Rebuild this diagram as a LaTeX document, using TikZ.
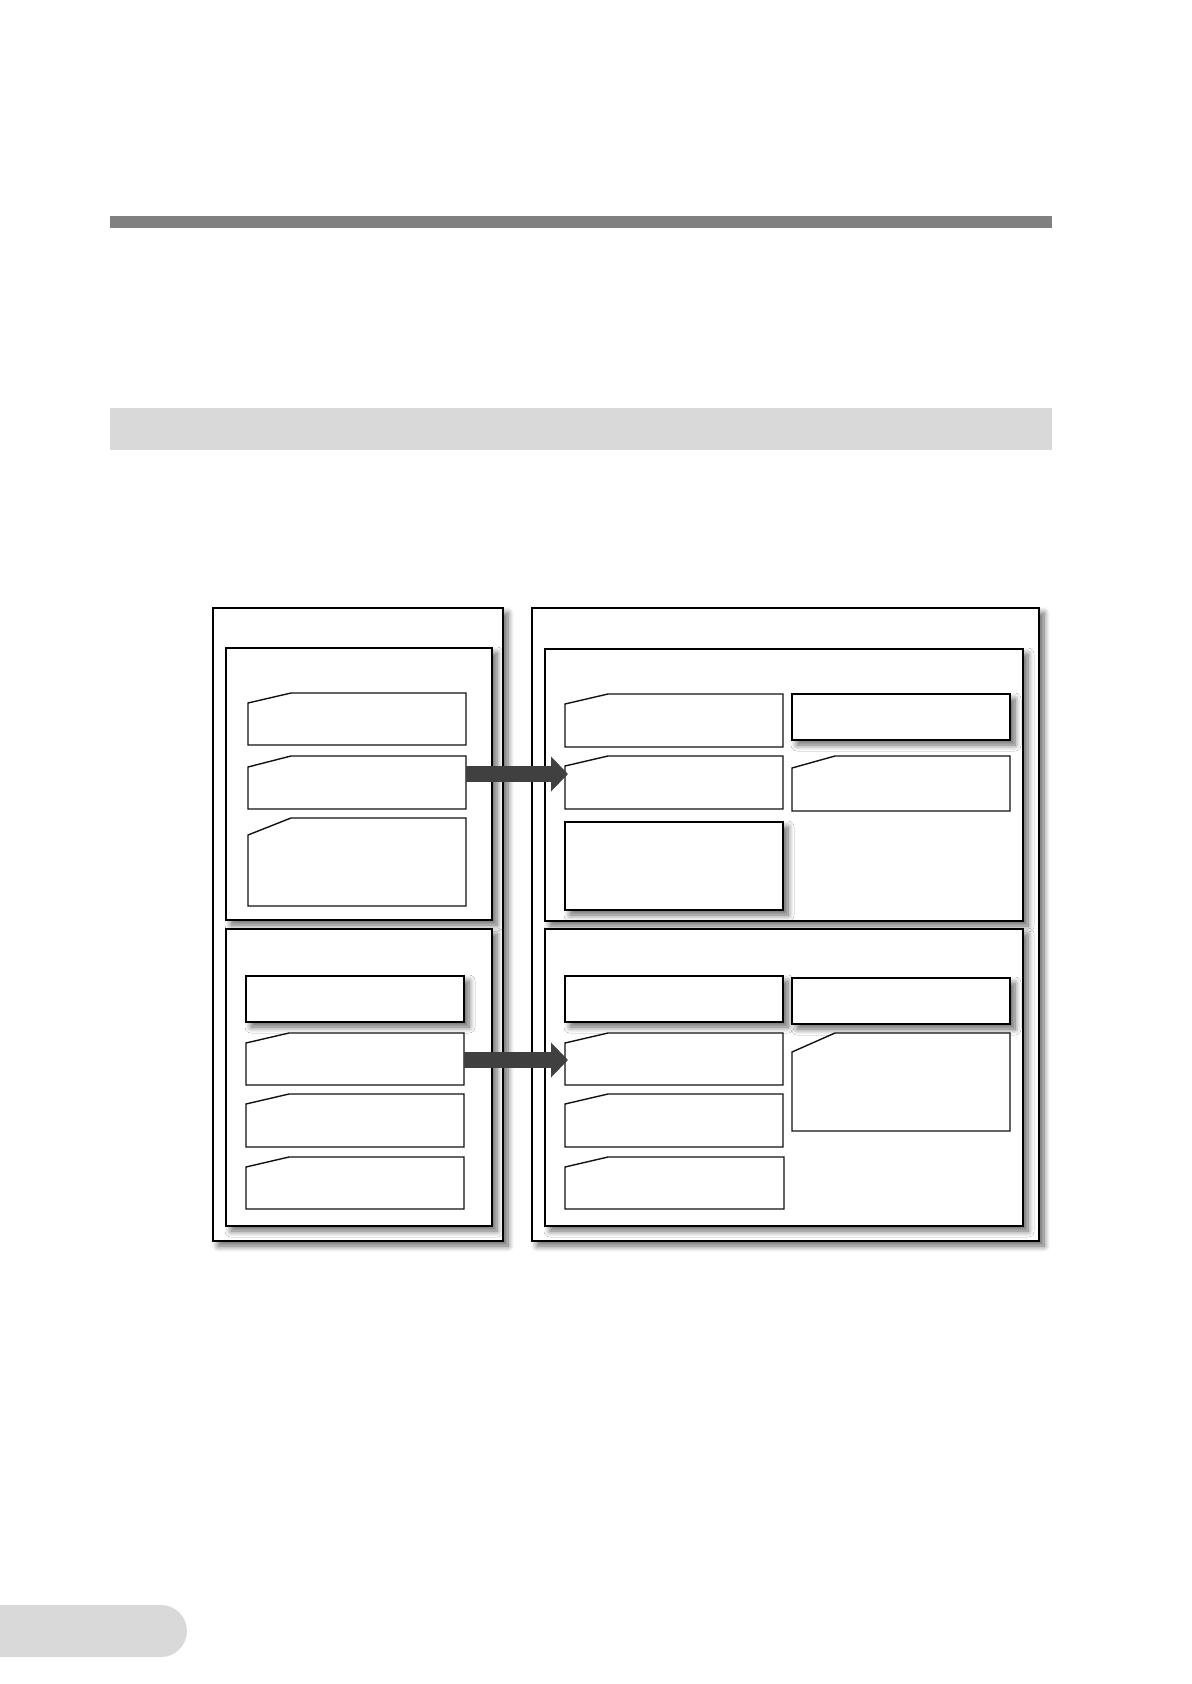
\documentclass[tikz,border=0pt]{standalone}
\usetikzlibrary{fit,arrows.meta,shadows.blur,calc}
\definecolor{bargray}{HTML}{808080}
\definecolor{bandgray}{HTML}{D9D9D9}
\definecolor{arrowgray}{HTML}{404040}
\definecolor{edgegray}{HTML}{111111}
\tikzset{
  softshadow/.style={blur shadow={shadow xshift=2.5pt, shadow yshift=-2.5pt, shadow blur steps=8, shadow blur radius=3pt, shadow opacity=60}},
  frame/.style={draw=black, line width=0.9pt, fill=white, inner sep=0pt, outer sep=0pt, softshadow},
  panel/.style={draw=black, line width=0.7pt, fill=white, inner sep=0pt, outer sep=0pt, softshadow},
  plainbox/.style={draw=black, line width=0.8pt, fill=white, inner sep=0pt, outer sep=0pt, softshadow},
  slantarea/.style={inner sep=0pt, outer sep=0pt},
  slantline/.style={draw=edgegray, line width=0.7pt, fill=white, line join=miter},
  flow/.style={draw=arrowgray, line width=8pt, -{Triangle[length=8.5pt,width=17pt]}}
}
\newcommand\slantnode[6]{%
  \node[slantarea, fit={(#2,#3) (#4,#5)}] (#1) {};
  \draw[slantline] (#1.south west) -- ([yshift=-#6pt]#1.north west) -- ([xshift=21.5pt]#1.north west) -- (#1.north east) -- (#1.south east) -- cycle;}
\begin{document}
\begin{tikzpicture}[x=0.5pt,y=-0.5pt]
\useasboundingbox (0,0) rectangle (1191,1684);
% page decorations
\fill[bargray] (110,216) rectangle (1052,228);
\fill[bandgray] (110,408) rectangle (1052,450);
\fill[bandgray, rounded corners=13pt] (-60,1605) rectangle (187,1657);
% outer frames
\node[frame, fit={(213,608) (503,1241)}] (LO) {};
\node[frame, fit={(532,608) (1039,1241)}] (RO) {};
% panels
\node[panel, fit={(226,648) (492,920)}] (LU) {};
\node[panel, fit={(226,929) (492,1226)}] (LL) {};
\node[panel, fit={(545,649) (1023,921)}] (RU) {};
\node[panel, fit={(545,929) (1023,1226)}] (RL) {};
% left upper nodes
\slantnode{L1}{248}{693}{466}{745}{5}
\slantnode{L2}{248}{756}{466}{809}{5.5}
\slantnode{L3}{248}{818}{466}{906}{8.5}
% left lower nodes
\node[plainbox, fit={(246,976) (464,1022)}] (L4) {};
\slantnode{L5}{246}{1033}{464}{1085}{5}
\slantnode{L6}{246}{1094}{464}{1147}{5}
\slantnode{L7}{246}{1157}{464}{1209}{5}
% right upper nodes
\slantnode{R1}{565}{694}{783}{747}{5}
\slantnode{R2}{565}{756}{783}{809}{5}
\node[plainbox, fit={(565,822) (783,910)}] (R3) {};
\node[plainbox, fit={(792,694) (1010,740)}] (RA) {};
\slantnode{RB}{792}{756}{1010}{811}{6}
% right lower nodes
\node[plainbox, fit={(565,976) (783,1022)}] (R4) {};
\slantnode{R5}{565}{1033}{783}{1085}{5}
\slantnode{R6}{565}{1094}{783}{1147}{5}
\slantnode{R7}{565}{1157}{784}{1209}{5}
\node[plainbox, fit={(792,978) (1010,1024)}] (RC) {};
\slantnode{RD}{792}{1033}{1010}{1131}{9.5}
% arrows
\draw[flow] ([yshift=-9pt]L2.north east) -- ([xshift=1.5pt,yshift=-9pt]R2.north west);
\draw[flow] ([yshift=-13.5pt]L5.north east) -- ([xshift=1.5pt,yshift=-13.5pt]R5.north west);
\end{tikzpicture}
\end{document}
